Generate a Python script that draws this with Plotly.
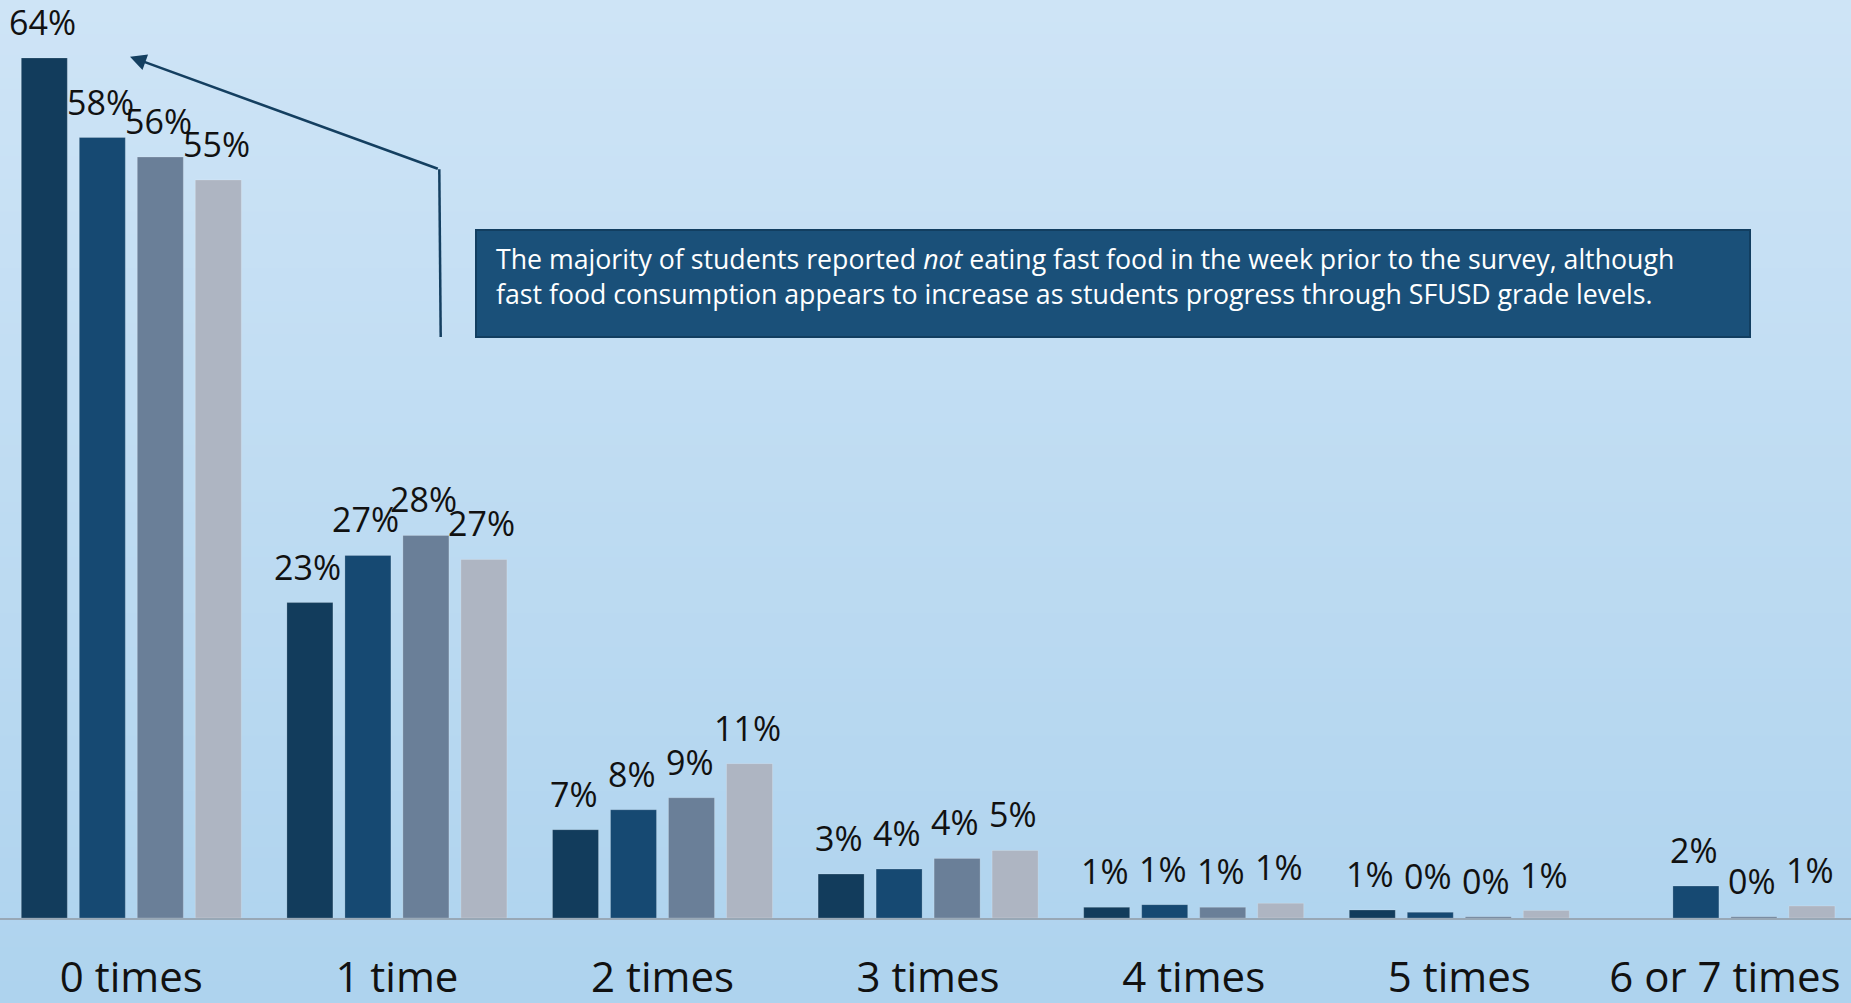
import plotly.graph_objects as go

# Weekly fast-food frequency, percent of students, by grade group
categories = ["0 times", "1 time", "2 times", "3 times", "4 times", "5 times", "6 or 7 times"]
series_names = ["Group 1", "Group 2", "Group 3", "Group 4"]
group_1 = [63.8, 23.4, 6.55, 3.26, 0.79, 0.59, None]
group_2 = [57.9, 26.9, 8.03, 3.63, 0.99, 0.42, 2.37]
group_3 = [56.45, 28.38, 8.92, 4.42, 0.79, 0.1, 0.1]
group_4 = [54.75, 26.6, 11.45, 5.01, 1.09, 0.55, 0.89]

note_text = ("The majority of students reported <i>not</i> eating fast food in the week prior "
             "to the survey, although<br>fast food consumption appears to increase as students "
             "progress through SFUSD grade levels.")

W, H = 1851, 1003
PLOT_BOTTOM = 918  # page y of the axis baseline
FONT = "Open Sans"
colors = ["#123c5c", "#164972", "#6a7f98", "#aeb5c2"]
BAR_PITCH_PX = 58


def px(x):
    return x / W


def py(y):
    return (PLOT_BOTTOM - y) / PLOT_BOTTOM


fig = go.Figure()
annotations = []
all_series = [group_1, group_2, group_3, group_4]
for j, (name, vals, col) in enumerate(zip(series_names, all_series, colors)):
    fig.add_trace(go.Bar(
        x=categories, y=vals, name=name,
        marker=dict(color=col, line=dict(color="rgba(255,255,255,0.18)", width=1)),
        hovertemplate="%{x}: %{y:.0f}%<extra>" + name + "</extra>",
    ))
    # value labels above each bar, from the same values
    for cat, v in zip(categories, vals):
        if v is None:
            continue
        annotations.append(dict(
            x=cat, y=v, xref="x", yref="y", text=f"{v:.0f}%", showarrow=False,
            xanchor="center", yanchor="bottom",
            xshift=(j - 1.5) * BAR_PITCH_PX - 2, yshift=11,
            font=dict(family=FONT, size=34, color="#111111"),
        ))

# vertical background gradient made of thin bands
shapes = []
n_bands = 90
top_rgb = (206, 228, 246)
bot_rgb = (174, 211, 238)
for i in range(n_bands):
    t = i / (n_bands - 1)
    c = tuple(round(top_rgb[k] + (bot_rgb[k] - top_rgb[k]) * t) for k in range(3))
    y0 = H * i / n_bands
    y1 = H * (i + 1) / n_bands + 1
    shapes.append(dict(type="rect", xref="paper", yref="paper", layer="below",
                       x0=0, x1=1, y0=py(y1), y1=py(y0),
                       fillcolor="rgb(%d,%d,%d)" % c, line=dict(width=0)))

# callout box
shapes.append(dict(type="rect", xref="paper", yref="paper", layer="above",
                   x0=px(476), x1=px(1750), y0=py(337), y1=py(230),
                   fillcolor="#1a5079", line=dict(color="#123e60", width=2)))
# vertical leg of the pointer
shapes.append(dict(type="line", xref="paper", yref="paper", layer="above",
                   x0=px(440.7), y0=py(337), x1=px(439.3), y1=py(169.3),
                   line=dict(color="#143f60", width=2.5)))

annotations += [
    dict(xref="paper", yref="paper", x=px(494), y=py(237.5), xanchor="left", yanchor="top",
         align="left", showarrow=False, text=note_text,
         font=dict(family=FONT, size=26.7, color="white")),
    dict(xref="paper", yref="paper", x=px(130), y=py(56.7), text="",
         showarrow=True, ax=309.3, ay=112.6, arrowhead=2, arrowsize=1.3,
         arrowwidth=2.5, arrowcolor="#143f60", standoff=0),
]

fig.update_layout(
    width=W, height=H,
    margin=dict(l=0, r=0, t=0, b=H - PLOT_BOTTOM, pad=0, autoexpand=False),
    paper_bgcolor="rgb(176,212,238)", plot_bgcolor="rgba(0,0,0,0)",
    barmode="group", bargap=0.1265, bargroupgap=0.207,
    showlegend=False,
    shapes=shapes, annotations=annotations,
    xaxis=dict(range=[-0.4944, 6.4748], showgrid=False, showline=True,
               linecolor="#98a8b6", linewidth=2, ticks="", ticklen=0,
               tickfont=dict(family=FONT, size=42, color="#111111"),
               ticklabelstandoff=22, automargin=False, fixedrange=True),
    yaxis=dict(range=[0, PLOT_BOTTOM / 13.48], visible=False, showgrid=False,
               zeroline=False, automargin=False, fixedrange=True),
)

fig.write_html("out.html", config={"displayModeBar": False})
